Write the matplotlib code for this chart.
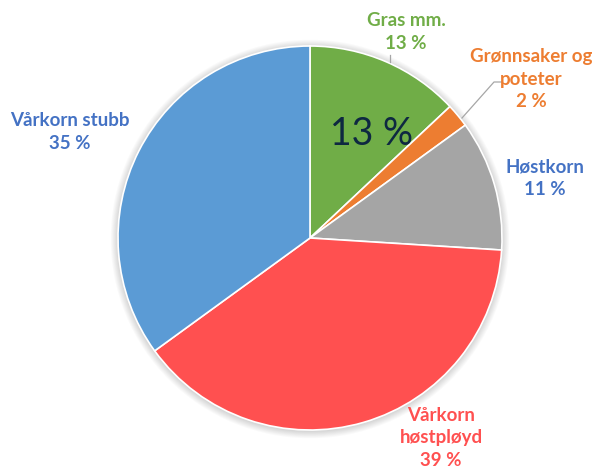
import matplotlib
matplotlib.use("Agg")
import matplotlib.pyplot as plt
from matplotlib.patches import Circle

categories = ["Gras mm.", "Grønnsaker og\npoteter", "Høstkorn", "Vårkorn\nhøstpløyd", "Vårkorn stubb"]
values = [13, 2, 11, 39, 35]
slice_colors = ["#70AD47", "#ED7D31", "#A5A5A5", "#FF5050", "#5B9BD5"]
label_colors = ["#70AD47", "#ED7D31", "#4472C4", "#FF5050", "#4472C4"]
pct_labels = ["13 %", "2 %", "11 %", "39 %", "35 %"]

W, H = 592, 468
fig = plt.figure(figsize=(W / 100, H / 100), dpi=100)
ax = fig.add_axes([0, 0, 1, 1])

cx, cy, r = 310, H - 238, 192

# soft shadow
for i in range(8):
    ax.add_patch(Circle((cx, cy - 1), r + 1 + i * 0.9, color="black", alpha=0.018, zorder=0, lw=0))

ax.pie(values, colors=slice_colors, startangle=90, counterclock=False,
       center=(cx, cy), radius=r, frame=True,
       wedgeprops=dict(edgecolor="white", linewidth=1.2))
ax.set_xlim(0, W)
ax.set_ylim(0, H)
ax.set_aspect("equal")
ax.axis("off")

font = "Lato"
label_pos = [(406, H - 32), (531, H - 79), (545, H - 178), (441, H - 438), (70, H - 132)]
for name, pct, col, (x, y) in zip(categories, pct_labels, label_colors, label_pos):
    ax.text(x, y, f"{name}\n{pct}", color=col, ha="center", va="center",
            fontsize=13.5, fontweight="bold", family=font, linespacing=1.38)

# leader lines
ax.plot([389.5, 389.5], [H - 55, H - 62], color="#A6A6A6", lw=0.9)
ax.plot([462, 494, 502], [H - 118, H - 82, H - 82], color="#A6A6A6", lw=0.9)

# big in-slice label
ax.text(371, H - 134, "13 %", color="#0E2841", ha="center", va="center",
        fontsize=27, family=font)

fig.savefig("out.png", dpi=100)
